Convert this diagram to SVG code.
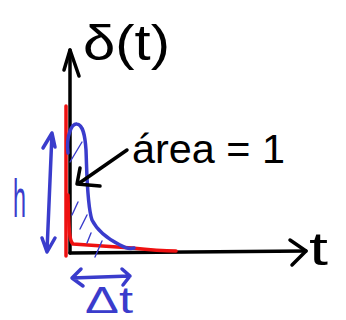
<svg xmlns="http://www.w3.org/2000/svg" width="346" height="320" viewBox="0 0 346 320">
<style>
.k{fill:none;stroke:#000;stroke-width:3.5;stroke-linecap:round;stroke-linejoin:round}
.r{fill:none;stroke:#ee1111;stroke-width:3.5;stroke-linecap:round;stroke-linejoin:round}
.b{fill:none;stroke:#3a3ccc;stroke-width:3.5;stroke-linecap:round;stroke-linejoin:round}
.h{fill:none;stroke:#3a3ccc;stroke-width:1.4;stroke-linecap:round}
.tk{font-family:"Liberation Sans","DejaVu Sans",sans-serif;fill:#000}
.tb{font-family:"Liberation Sans","DejaVu Sans",sans-serif;fill:#3a3ccc}
</style>
<rect width="346" height="320" fill="#fff"/>
<g id="axes">
<path class="k" d="M70,253 L70,50"/>
<path class="k" d="M64,70 L70,50 L79,76"/>
<path class="k" d="M70,253 L306,251"/>
<path class="k" d="M290,240 L306,251 L292,265"/>
</g>
<g id="red-pulse">
<path class="r" d="M66,106 L66,256"/>
<path class="r" d="M68,195 C69,228 69,241 73,244 L132,248 C150,250 160,251 176,251"/>
</g>
<g id="blue-pulse">
<path class="b" d="M68,153 C66,135 72,123 77,124 C83,125 85,135 86,150 C87,175 87,205 92,220 C98,232 110,240 120,245 C125,248 130,249 134,248"/>
<path class="h" d="M70,162 L82,142 M72,215 L78,202 M80,229 L87,215 M87,243 L91,233 M95,257 L102,241"/>
</g>
<g id="connectors">
<path class="k" d="M127,150 L78,184 M80,168 L77,184 L100,186"/>
<path class="b" d="M52,133 L47,251 M43,148 L52,133 L55,147 M42,238 L47,252 L55,238"/>
<path class="b" d="M72,278 L130,276 M81,269 L72,278 L83,286 M122,269 L130,276 L123,285"/>
</g>
<g id="labels">
<text class="tk" x="83" y="60" font-size="50" textLength="87" lengthAdjust="spacingAndGlyphs">δ(t)</text>
<text class="tk" x="132" y="163" font-size="40" textLength="153" lengthAdjust="spacingAndGlyphs">área = 1</text>
<text class="tk" x="309" y="265" font-size="46" textLength="19" lengthAdjust="spacingAndGlyphs">t</text>
<text class="tb" x="13" y="217" font-size="54" textLength="13" lengthAdjust="spacingAndGlyphs">h</text>
<text class="tb" x="85" y="313" font-size="36" textLength="48" lengthAdjust="spacingAndGlyphs">Δt</text>
</g>
</svg>
